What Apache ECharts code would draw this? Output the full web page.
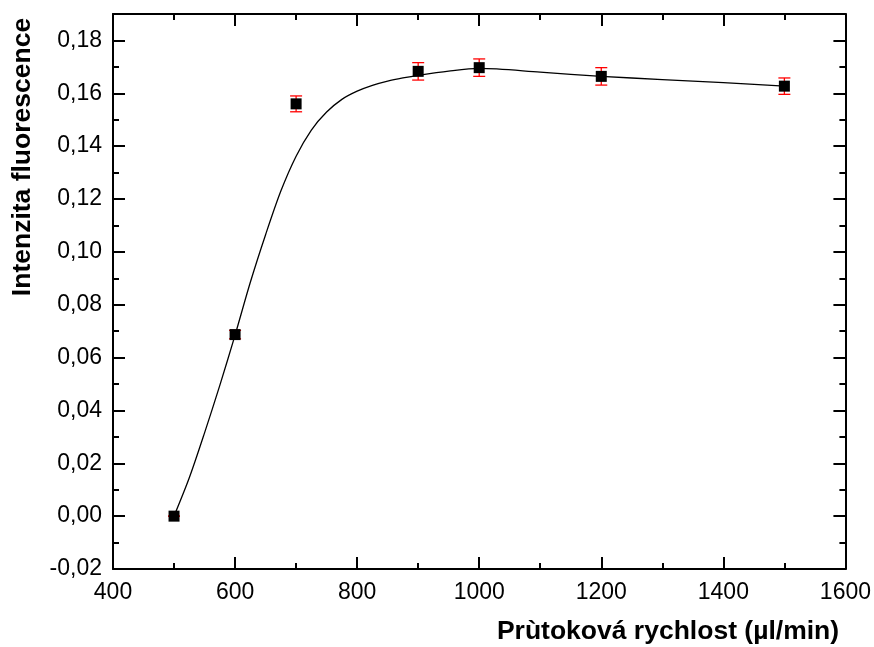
<!DOCTYPE html>
<html>
<head>
<meta charset="utf-8">
<script src="https://cdn.jsdelivr.net/npm/echarts@6/dist/echarts.min.js"></script>
<style>
html,body{margin:0;padding:0;background:#fff;}
#c{width:874px;height:647px;}
</style>
</head>
<body>
<div id="c"></div>
<script>
// measured points
const xValues = [500, 600, 700, 900, 1000, 1200, 1500];
const yValues = [0.0000, 0.0687, 0.1560, 0.1683, 0.1697, 0.1664, 0.1627];
const yErrors = [0.0000, 0.0016, 0.0030, 0.0033, 0.0033, 0.0033, 0.0031];
// fitted curve
const fitX = [500, 525, 550, 575, 600, 625, 650, 675, 700, 725, 750, 775, 800, 825, 850, 875, 900, 950, 1000, 1100, 1200, 1300, 1400, 1500];
const fitY = [0.000, 0.0145, 0.0315, 0.0495, 0.0685, 0.0885, 0.1065, 0.1230, 0.1362, 0.1461, 0.1529, 0.1577, 0.1608, 0.1630, 0.1646, 0.1658, 0.1668, 0.1684, 0.1694, 0.1680, 0.1664, 0.1652, 0.1640, 0.1627];
const xTitle = 'Prùtoková rychlost (µl/min)';
const yTitle = 'Intenzita fluorescence';

const FONT = 'Liberation Sans, Arial, sans-serif';
const chart = echarts.init(document.getElementById('c'), null, {renderer: 'canvas'});

const pts = xValues.map((x, i) => [x, yValues[i]]);
const errs = xValues.map((x, i) => [x, yValues[i] - yErrors[i], yValues[i] + yErrors[i]]);
const fit = fitX.map((x, i) => [x, fitY[i]]);

const lineStyle = {color: '#000', width: 2};
function xAx(pos, labels) {
  return {
    type: 'value', position: pos, min: 400, max: 1600, interval: 200,
    axisLine: {show: true, onZero: false, lineStyle: lineStyle},
    axisTick: {show: true, inside: true, length: 12, lineStyle: lineStyle},
    minorTick: {show: true, splitNumber: 2, length: 6, lineStyle: lineStyle},
    axisLabel: {show: labels, color: '#000', fontSize: 23, fontFamily: FONT, margin: 12,
      formatter: function (v) { return String(Math.round(v)); }},
    splitLine: {show: false}, minorSplitLine: {show: false}
  };
}
function yAx(pos, major, labels) {
  return {
    type: 'value', position: pos, min: -0.02, max: 0.19, interval: major ? 0.02 : 0.01,
    axisLine: {show: major, onZero: false, lineStyle: lineStyle},
    axisTick: {show: true, inside: true, length: major ? 12 : 6, lineStyle: lineStyle},
    axisLabel: {
      show: labels, color: '#000', fontSize: 23, fontFamily: FONT, margin: 11,
      formatter: function (v) {
        const k = Math.round(v * 100);
        if (k % 2 !== 0) return '';
        return (k / 100).toFixed(2).replace('.', ',');
      }
    },
    splitLine: {show: false}
  };
}

chart.setOption({
  animation: false,
  backgroundColor: '#fff',
  grid: {left: 113, right: 28, top: 14, bottom: 78, containLabel: false},
  xAxis: [xAx('bottom', true), xAx('top', false)],
  yAxis: [yAx('left', true, true), yAx('left', false, false), yAx('right', true, false), yAx('right', false, false)],
  graphic: [
    {type: 'text', x: 668, y: 632, style: {text: xTitle, font: 'bold 26.5px ' + FONT, fill: '#000', textAlign: 'center', textVerticalAlign: 'middle'}},
    {type: 'text', x: 23, y: 157, rotation: Math.PI / 2, style: {text: yTitle, font: 'bold 26.5px ' + FONT, fill: '#000', textAlign: 'center', textVerticalAlign: 'middle'}}
  ],
  series: [
    {
      type: 'line', data: fit, smooth: 0.3, showSymbol: false, symbol: 'none',
      lineStyle: {color: '#000', width: 1.3}, z: 2
    },
    {
      type: 'custom', data: errs, z: 3,
      renderItem: function (params, api) {
        const x = api.value(0);
        const lo = api.coord([x, api.value(1)]);
        const hi = api.coord([x, api.value(2)]);
        const w = 6;
        const st = {stroke: '#ff0000', lineWidth: 1.3};
        return {
          type: 'group', children: [
            {type: 'line', shape: {x1: lo[0], y1: lo[1], x2: hi[0], y2: hi[1]}, style: st},
            {type: 'line', shape: {x1: lo[0] - w, y1: lo[1], x2: lo[0] + w, y2: lo[1]}, style: st},
            {type: 'line', shape: {x1: hi[0] - w, y1: hi[1], x2: hi[0] + w, y2: hi[1]}, style: st}
          ]
        };
      }
    },
    {
      type: 'scatter', data: pts, symbol: 'rect', symbolSize: 11,
      itemStyle: {color: '#000', opacity: 1}, z: 4
    }
  ]
});
</script>
</body>
</html>
